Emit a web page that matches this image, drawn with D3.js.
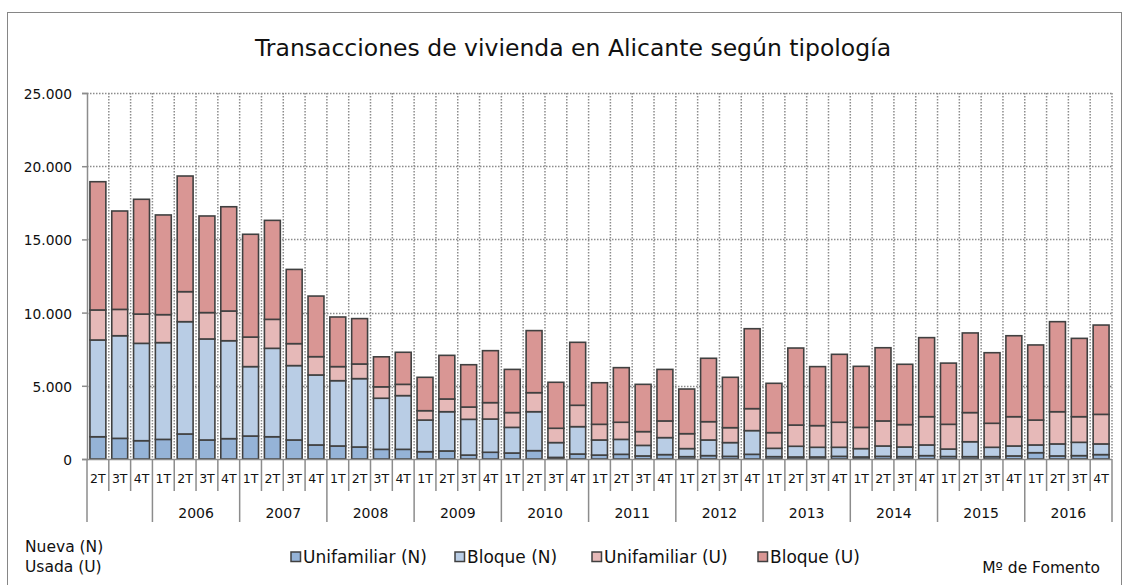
<!DOCTYPE html>
<html>
<head>
<meta charset="utf-8">
<script src="https://cdn.jsdelivr.net/npm/d3@7"></script>
<style>
  body { margin: 0; background: #fff; }
  svg text { font-family: "Century Gothic", "URW Gothic", "DejaVu Sans", sans-serif; fill: #111; }
</style>
</head>
<body>
<script>
// trimestres 2005 2T .. 2016 4T
var years = ["2005", "2006", "2007", "2008", "2009", "2010", "2011", "2012", "2013", "2014", "2015", "2016"];
var quarters = ["2T", "3T", "4T"];
for (var q = 1; q < years.length; q++) quarters = quarters.concat(["1T", "2T", "3T", "4T"]);

var unifamiliarN = [1520, 1410, 1250, 1340, 1710, 1300, 1390, 1570, 1520, 1300, 960, 890, 820, 660, 660, 500, 550, 270, 460, 410, 570, 110, 340, 270, 320, 210, 300, 160, 230, 180, 320, 160, 140, 140, 180, 140, 180, 160, 230, 170, 160, 160, 210, 430, 210, 230, 300];
var bloqueN = [6610, 7010, 6650, 6610, 7670, 6900, 6690, 4740, 6040, 5080, 4780, 4460, 4670, 3490, 3670, 2160, 2680, 2440, 2270, 1750, 2660, 1010, 1870, 1030, 1020, 720, 1160, 550, 1070, 940, 1620, 570, 730, 660, 620, 570, 710, 660, 730, 510, 1020, 640, 680, 530, 820, 910, 730];
var unifamiliarU = [2050, 1800, 2000, 1910, 2050, 1800, 2030, 2020, 1980, 1500, 1250, 960, 1000, 780, 770, 640, 870, 840, 1120, 1010, 1300, 980, 1460, 1070, 1170, 940, 1140, 1020, 1250, 1020, 1500, 1070, 1450, 1480, 1710, 1450, 1710, 1530, 1930, 1690, 1990, 1640, 2000, 1700, 2200, 1750, 2020];
var bloqueU = [8760, 6720, 7840, 6810, 7900, 6600, 7120, 7020, 6760, 5070, 4140, 3390, 3100, 2050, 2190, 2280, 2980, 2890, 3550, 2950, 4240, 3140, 4300, 2840, 3730, 3230, 3520, 3050, 4330, 3440, 5460, 3370, 5260, 4030, 4640, 4170, 5000, 4120, 5400, 4180, 5440, 4820, 5530, 5130, 6150, 5350, 6100];

var seriesNames = ["Unifamiliar (N)", "Bloque (N)", "Unifamiliar (U)", "Bloque (U)"];
var colors = ["#95b3d7", "#b9cde5", "#e6b9b8", "#d99694"];
var yTicks = [0, 5000, 10000, 15000, 20000, 25000];

var width = 1129, height = 585;
var margin = {top: 93, left: 87, right: 1112, bottom: 459};

var es = d3.formatLocale({decimal: ",", thousands: ".", grouping: [3], currency: ["", " €"]});
var fmt = es.format(",");

var rows = quarters.map(function(q, i) {
  return {key: i, q: q, year: years[i < 3 ? 0 : 1 + Math.floor((i - 3) / 4)],
          s0: unifamiliarN[i], s1: bloqueN[i], s2: unifamiliarU[i], s3: bloqueU[i]};
});
var stack = d3.stack().keys(["s0", "s1", "s2", "s3"])(rows);

var x = d3.scaleBand()
  .domain(rows.map(function(d) { return d.key; }))
  .range([margin.left, margin.right])
  .paddingInner(0.27)
  .paddingOuter(0.135);
var y = d3.scaleLinear()
  .domain([0, 25000])
  .range([margin.bottom, margin.top]);

var svg = d3.select("body").append("svg")
  .attr("width", width)
  .attr("height", height);

// marco
svg.append("rect")
  .attr("x", 7.5).attr("y", 12.5)
  .attr("width", 1114).attr("height", 600)
  .attr("fill", "none")
  .attr("stroke", "#868686");

svg.append("text")
  .attr("x", 573).attr("y", 56)
  .attr("text-anchor", "middle")
  .style("font-size", "23.5px")
  .text("Transacciones de vivienda en Alicante según tipología");

var step = x.step();
var bounds = d3.range(rows.length + 1).map(function(i) { return margin.left + i * step; });

// rejilla
svg.append("g").selectAll("line")
  .data(yTicks.slice(1))
  .enter().append("line")
  .attr("x1", margin.left).attr("x2", margin.right)
  .attr("y1", function(d) { return Math.round(y(d)) + 0.5; })
  .attr("y2", function(d) { return Math.round(y(d)) + 0.5; })
  .attr("stroke", "#8c8c8c")
  .attr("stroke-width", 1.5)
  .attr("stroke-dasharray", "1.5,1.5");

svg.append("g").selectAll("line")
  .data(bounds.slice(1))
  .enter().append("line")
  .attr("x1", function(d) { return d; }).attr("x2", function(d) { return d; })
  .attr("y1", margin.top).attr("y2", margin.bottom)
  .attr("stroke", "#8c8c8c")
  .attr("stroke-width", 1.5)
  .attr("stroke-dasharray", "1.5,1.5");

// barras
svg.append("g").selectAll("g")
  .data(stack)
  .enter().append("g")
  .attr("fill", function(d, i) { return colors[i]; })
  .selectAll("rect")
  .data(function(d) { return d; })
  .enter().append("rect")
  .attr("x", function(d) { return x(d.data.key); })
  .attr("width", x.bandwidth())
  .attr("y", function(d) { return y(d[1]); })
  .attr("height", function(d) { return y(d[0]) - y(d[1]); })
  .attr("stroke", "#404040")
  .attr("stroke-width", 1.6);

// eje y
var yAxis = svg.append("g")
  .attr("transform", "translate(" + margin.left + ",0)")
  .call(d3.axisLeft(y).tickValues(yTicks).tickFormat(fmt).tickSize(5).tickPadding(10));
yAxis.select(".domain").attr("stroke", "#8c8c8c").attr("stroke-width", 1.5);
yAxis.selectAll(".tick line").attr("stroke", "#8c8c8c").attr("stroke-width", 1.5);
yAxis.selectAll("text").style("font-size", "13.8px").style("font-family", null).attr("dy", "0.4em");

// eje x: base y separadores
svg.append("line")
  .attr("x1", margin.left).attr("x2", margin.right)
  .attr("y1", margin.bottom + 0.5).attr("y2", margin.bottom + 0.5)
  .attr("stroke", "#8c8c8c").attr("stroke-width", 1.5);

svg.append("g").selectAll("line")
  .data(bounds)
  .enter().append("line")
  .attr("x1", function(d) { return d; }).attr("x2", function(d) { return d; })
  .attr("y1", margin.bottom)
  .attr("y2", function(d, i) { return (i === 0 || i === rows.length || (i - 3) % 4 === 0) ? 522 : 491; })
  .attr("stroke", "#8c8c8c").attr("stroke-width", 1.5);

svg.append("g").selectAll("text")
  .data(rows)
  .enter().append("text")
  .attr("x", function(d) { return x(d.key) + x.bandwidth() / 2; })
  .attr("y", 483)
  .attr("text-anchor", "middle")
  .style("font-size", "12.5px")
  .text(function(d) { return d.q; });

svg.append("g").selectAll("text")
  .data(years.slice(1))
  .enter().append("text")
  .attr("x", function(d, i) { return margin.left + (3 + i * 4 + 2) * step; })
  .attr("y", 518)
  .attr("text-anchor", "middle")
  .style("font-size", "14px")
  .text(function(d) { return d; });

// leyenda
var legendX = [291, 455, 592, 758];
var legend = svg.append("g").selectAll("g")
  .data(seriesNames)
  .enter().append("g")
  .attr("transform", function(d, i) { return "translate(" + legendX[i] + ",552)"; });
legend.append("rect")
  .attr("width", 9.5).attr("height", 9.5)
  .attr("fill", function(d, i) { return colors[i]; })
  .attr("stroke", "#404040").attr("stroke-width", 1.5);
legend.append("text")
  .attr("x", 12).attr("y", 11)
  .style("font-size", "17px")
  .text(function(d) { return d; });

svg.append("text").attr("x", 25).attr("y", 552).style("font-size", "15.5px").text("Nueva (N)");
svg.append("text").attr("x", 25).attr("y", 572).style("font-size", "15.5px").text("Usada (U)");
svg.append("text").attr("x", 1100).attr("y", 573).attr("text-anchor", "end").style("font-size", "15.5px").text("Mº de Fomento");
</script>
</body>
</html>
